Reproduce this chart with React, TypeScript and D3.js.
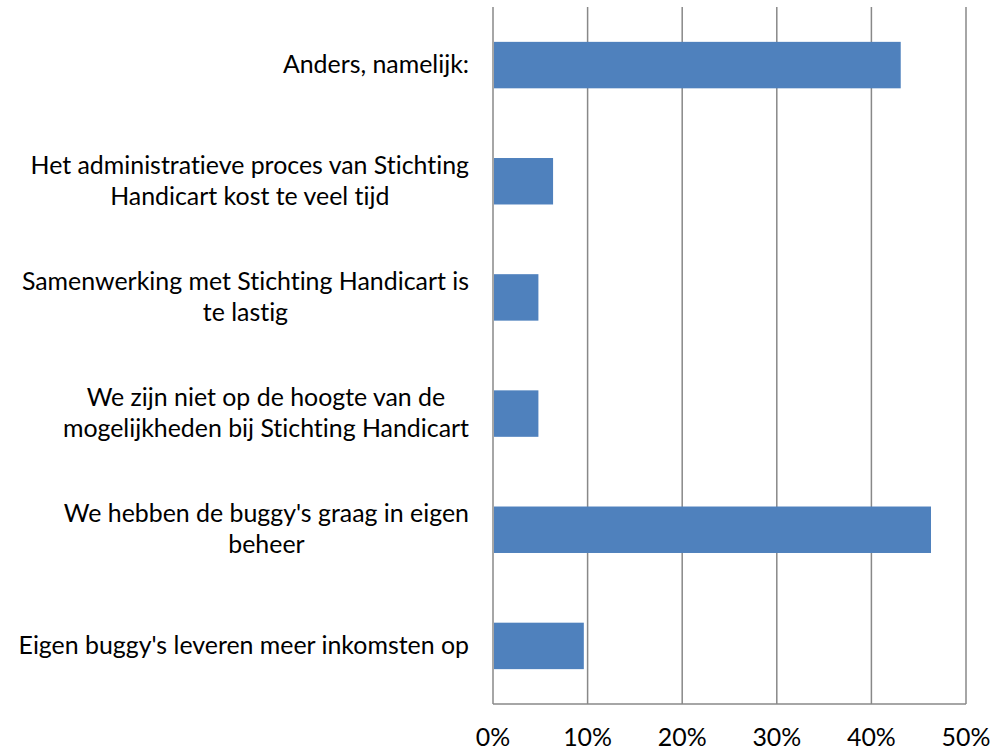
import React, { useEffect, useRef } from "react";
import * as d3 from "d3";

const categories = [
  ["Anders, namelijk:"],
  ["Het administratieve proces van Stichting", "Handicart kost te veel tijd"],
  ["Samenwerking met Stichting Handicart is", "te lastig"],
  ["We zijn niet op de hoogte van de", "mogelijkheden bij Stichting Handicart"],
  ["We hebben de buggy's graag in eigen", "beheer"],
  ["Eigen buggy's leveren meer inkomsten op"],
];
const values = [0.431, 0.0635, 0.048, 0.048, 0.463, 0.096];
const ticks = [0, 0.1, 0.2, 0.3, 0.4, 0.5];

const W = 1006;
const H = 751;
const FONT = "Lato, 'Open Sans', sans-serif";
const FS = "24.9px";

const App = () => {
  const ref = useRef(null);

  useEffect(() => {
    const svg = d3.select(ref.current);
    svg.selectAll("*").remove();

    const x = d3.scaleLinear().domain([0, 0.5]).range([493, 966]);
    const y = d3
      .scaleBand()
      .domain(categories.map((c, i) => String(i)))
      .range([7, 704])
      .padding(0);
    const barH = y.bandwidth() * 0.4;

    // grid lines
    svg
      .append("g")
      .selectAll("line")
      .data(ticks)
      .enter()
      .append("line")
      .attr("x1", (d) => x(d))
      .attr("x2", (d) => x(d))
      .attr("y1", 7)
      .attr("y2", 704)
      .attr("stroke", "#888")
      .attr("stroke-width", 1.5);

    svg
      .append("line")
      .attr("x1", x(0))
      .attr("x2", x(0.5))
      .attr("y1", 704)
      .attr("y2", 704)
      .attr("stroke", "#888")
      .attr("stroke-width", 1.5);

    // bars
    svg
      .append("g")
      .selectAll("rect")
      .data(values)
      .enter()
      .append("rect")
      .attr("x", x(0) + 1)
      .attr("y", (d, i) => y(String(i)) + (y.bandwidth() - barH) / 2)
      .attr("width", (d) => x(d) - x(0) - 1)
      .attr("height", barH)
      .attr("fill", "#4F81BD");

    // tick labels
    svg
      .append("g")
      .selectAll("text")
      .data(ticks)
      .enter()
      .append("text")
      .attr("x", (d) => x(d))
      .attr("y", 746)
      .attr("text-anchor", "middle")
      .style("font-family", FONT)
      .style("font-size", FS)
      .style("font-variant-ligatures", "none")
      .style("fill", "#000")
      .text((d) => d3.format(".0%")(d));

    // category labels: centred block, right edge at 469
    const labels = svg.append("g");
    categories.forEach((lines, i) => {
      const cy = y(String(i)) + y.bandwidth() / 2;
      const lh = 31;
      const first = cy + 8 - ((lines.length - 1) * lh) / 2;
      const t = labels
        .append("text")
        .attr("text-anchor", "middle")
        .style("font-family", FONT)
        .style("font-size", FS)
        .style("font-variant-ligatures", "none")
        .style("fill", "#000");
      lines.forEach((ln, j) => {
        t.append("tspan").attr("y", first + j * lh).text(ln);
      });
      let maxW = 0;
      t.selectAll("tspan").each(function () {
        maxW = Math.max(maxW, (this as any).getComputedTextLength());
      });
      t.selectAll("tspan").attr("x", 469 - maxW / 2);
    });
  }, []);

  return <svg ref={ref} width={W} height={H} style={{ position: "absolute", left: 0, top: 0 }} />;
};

export default App;
